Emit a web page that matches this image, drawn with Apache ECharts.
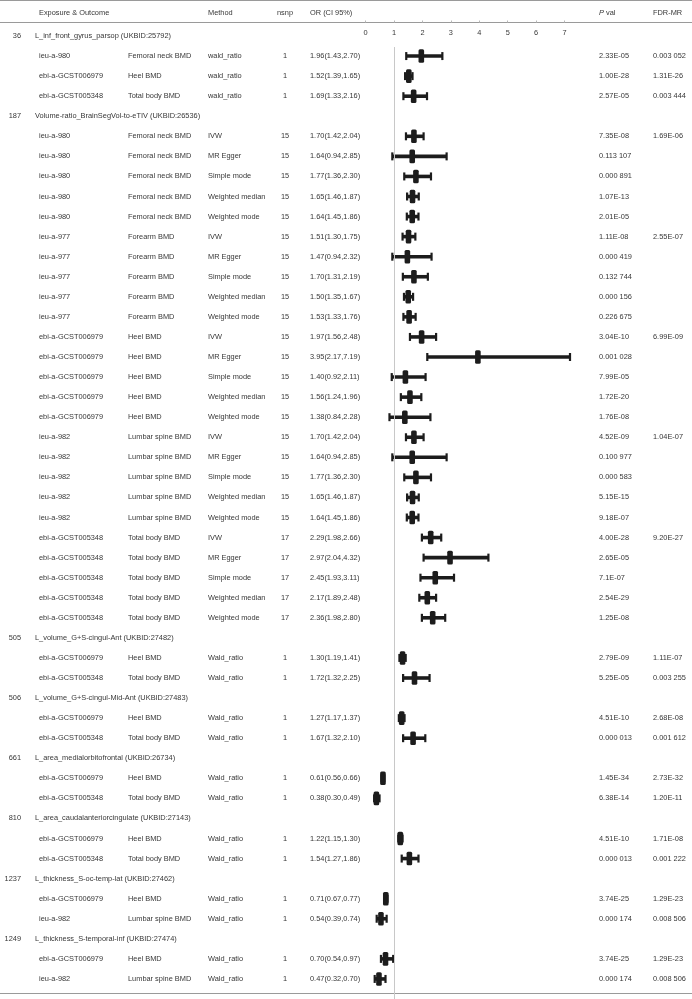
<!DOCTYPE html>
<html>
<head>
<meta charset="utf-8">
<script src="https://cdn.jsdelivr.net/npm/echarts/dist/echarts.min.js"></script>
<style>
html,body{margin:0;padding:0;background:#ffffff;}
#chart{width:692px;height:999px;}
</style>
</head>
<body>
<div id="chart"></div>
<script>
// ---------- data ----------
const groupIds = [36, 187, 505, 506, 661, 810, 1237, 1249];
const exposures = [
  "L_inf_front_gyrus_parsop (UKBID:25792)",
  "Volume-ratio_BrainSegVol-to-eTIV (UKBID:26536)",
  "L_volume_G+S-cingul-Ant (UKBID:27482)",
  "L_volume_G+S-cingul-Mid-Ant (UKBID:27483)",
  "L_area_medialorbitofrontal (UKBID:26734)",
  "L_area_caudalanteriorcingulate (UKBID:27143)",
  "L_thickness_S-oc-temp-lat (UKBID:27462)",
  "L_thickness_S-temporal-inf (UKBID:27474)"
];
const groupCounts = [3, 25, 2, 2, 2, 2, 2, 2];

const outcomeIds = [
  "ieu-a-980","ebi-a-GCST006979","ebi-a-GCST005348",
  "ieu-a-980","ieu-a-980","ieu-a-980","ieu-a-980","ieu-a-980",
  "ieu-a-977","ieu-a-977","ieu-a-977","ieu-a-977","ieu-a-977",
  "ebi-a-GCST006979","ebi-a-GCST006979","ebi-a-GCST006979","ebi-a-GCST006979","ebi-a-GCST006979",
  "ieu-a-982","ieu-a-982","ieu-a-982","ieu-a-982","ieu-a-982",
  "ebi-a-GCST005348","ebi-a-GCST005348","ebi-a-GCST005348","ebi-a-GCST005348","ebi-a-GCST005348",
  "ebi-a-GCST006979","ebi-a-GCST005348",
  "ebi-a-GCST006979","ebi-a-GCST005348",
  "ebi-a-GCST006979","ebi-a-GCST005348",
  "ebi-a-GCST006979","ebi-a-GCST005348",
  "ebi-a-GCST006979","ieu-a-982",
  "ebi-a-GCST006979","ieu-a-982"
];
const outcomes = [
  "Femoral neck BMD","Heel BMD","Total body BMD",
  "Femoral neck BMD","Femoral neck BMD","Femoral neck BMD","Femoral neck BMD","Femoral neck BMD",
  "Forearm BMD","Forearm BMD","Forearm BMD","Forearm BMD","Forearm BMD",
  "Heel BMD","Heel BMD","Heel BMD","Heel BMD","Heel BMD",
  "Lumbar spine BMD","Lumbar spine BMD","Lumbar spine BMD","Lumbar spine BMD","Lumbar spine BMD",
  "Total body BMD","Total body BMD","Total body BMD","Total body BMD","Total body BMD",
  "Heel BMD","Total body BMD",
  "Heel BMD","Total body BMD",
  "Heel BMD","Total body BMD",
  "Heel BMD","Total body BMD",
  "Heel BMD","Lumbar spine BMD",
  "Heel BMD","Lumbar spine BMD"
];
const fiveMethods = ["IVW","MR Egger","Simple mode","Weighted median","Weighted mode"];
const methods = [
  "wald_ratio","wald_ratio","wald_ratio",
  ...fiveMethods, ...fiveMethods, ...fiveMethods, ...fiveMethods, ...fiveMethods,
  "Wald_ratio","Wald_ratio","Wald_ratio","Wald_ratio","Wald_ratio","Wald_ratio",
  "Wald_ratio","Wald_ratio","Wald_ratio","Wald_ratio","Wald_ratio","Wald_ratio"
];
const nsnp = [1,1,1, 15,15,15,15,15, 15,15,15,15,15, 15,15,15,15,15, 15,15,15,15,15, 17,17,17,17,17, 1,1,1,1,1,1,1,1,1,1,1,1];
const orVals = [1.96,1.52,1.69, 1.70,1.64,1.77,1.65,1.64, 1.51,1.47,1.70,1.50,1.53, 1.97,3.95,1.40,1.56,1.38,
  1.70,1.64,1.77,1.65,1.64, 2.29,2.97,2.45,2.17,2.36, 1.30,1.72, 1.27,1.67, 0.61,0.38, 1.22,1.54, 0.71,0.54, 0.70,0.47];
const ciLow = [1.43,1.39,1.33, 1.42,0.94,1.36,1.46,1.45, 1.30,0.94,1.31,1.35,1.33, 1.56,2.17,0.92,1.24,0.84,
  1.42,0.94,1.36,1.46,1.45, 1.98,2.04,1.93,1.89,1.98, 1.19,1.32, 1.17,1.32, 0.56,0.30, 1.15,1.27, 0.67,0.39, 0.54,0.32];
const ciHigh = [2.70,1.65,2.16, 2.04,2.85,2.30,1.87,1.86, 1.75,2.32,2.19,1.67,1.76, 2.48,7.19,2.11,1.96,2.28,
  2.04,2.85,2.30,1.87,1.86, 2.66,4.32,3.11,2.48,2.80, 1.41,2.25, 1.37,2.10, 0.66,0.49, 1.30,1.86, 0.77,0.74, 0.97,0.70];
const pVals = ["2.33E-05","1.00E-28","2.57E-05",
  "7.35E-08","0.113 107","0.000 891","1.07E-13","2.01E-05",
  "1.11E-08","0.000 419","0.132 744","0.000 156","0.226 675",
  "3.04E-10","0.001 028","7.99E-05","1.72E-20","1.76E-08",
  "4.52E-09","0.100 977","0.000 583","5.15E-15","9.18E-07",
  "4.00E-28","2.65E-05","7.1E-07","2.54E-29","1.25E-08",
  "2.79E-09","5.25E-05","4.51E-10","0.000 013","1.45E-34","6.38E-14",
  "4.51E-10","0.000 013","3.74E-25","0.000 174","3.74E-25","0.000 174"];
const fdrVals = ["0.003 052","1.31E-26","0.003 444",
  "1.69E-06","","","","",
  "2.55E-07","","","","",
  "6.99E-09","","","","",
  "1.04E-07","","","","",
  "9.20E-27","","","","",
  "1.11E-07","0.003 255","2.68E-08","0.001 612","2.73E-32","1.20E-11",
  "1.71E-08","0.001 222","1.29E-23","0.008 506","1.29E-23","0.008 506"];
const xTickMin = 0, xTickMax = 7, xTickStep = 1;
const refValue = 1;

// ---------- build table rows ----------
const tableRows = [];   // {pos, kind, ...}
const forestData = [];  // [pos, or, lo, hi]
let pos = 0, r = 0;
groupIds.forEach((gid, g) => {
  tableRows.push({pos: pos, kind: 'group', id: String(gid), name: exposures[g]});
  pos++;
  for (let k = 0; k < groupCounts[g]; k++, r++, pos++) {
    tableRows.push({
      pos: pos, kind: 'row',
      oid: outcomeIds[r], outcome: outcomes[r], method: methods[r], nsnp: String(nsnp[r]),
      orText: orVals[r].toFixed(2) + '(' + ciLow[r].toFixed(2) + ',' + ciHigh[r].toFixed(2) + ')',
      p: pVals[r], fdr: fdrVals[r]
    });
    forestData.push([pos, orVals[r], ciLow[r], ciHigh[r]]);
  }
});

// ---------- style ----------
const FONT = '"Liberation Sans", Arial, Helvetica, sans-serif';
const FS = 7.4;
const TXT = '#363636';
const COL = { gid: 21, expo: 35, oid: 39, outcome: 128, method: 208, nsnp: 285, or: 310, p: 599, fdr: 653 };
const RULE = '#9a9a9a';

function txt(x, y, s, align) {
  return { type: 'text', x: x, y: y,
    style: { text: s, fill: TXT, fontSize: FS, fontFamily: FONT, align: align || 'left', verticalAlign: 'middle' } };
}

function renderTable(params, api) {
  const row = tableRows[params.dataIndex];
  const y = api.coord([0, row.pos])[1];
  const ch = [];
  if (row.kind === 'group') {
    ch.push(txt(COL.gid, y, row.id, 'right'));
    ch.push(txt(COL.expo, y, row.name));
  } else {
    ch.push(txt(COL.oid, y, row.oid));
    ch.push(txt(COL.outcome, y, row.outcome));
    ch.push(txt(COL.method, y, row.method));
    ch.push(txt(COL.nsnp, y, row.nsnp, 'center'));
    ch.push(txt(COL.or, y, row.orText));
    ch.push(txt(COL.p, y, row.p));
    if (row.fdr) ch.push(txt(COL.fdr, y, row.fdr));
  }
  return { type: 'group', children: ch };
}

function renderForest(params, api) {
  const yv = api.value(0);
  const pOr = api.coord([api.value(1), yv]);
  const pLo = api.coord([api.value(2), yv]);
  const pHi = api.coord([api.value(3), yv]);
  const c = '#1c1c1c';
  return { type: 'group', children: [
    { type: 'line', shape: { x1: pLo[0], y1: pLo[1], x2: pHi[0], y2: pHi[1] }, style: { stroke: c, lineWidth: 3.6 } },
    { type: 'line', shape: { x1: pLo[0], y1: pLo[1] - 4, x2: pLo[0], y2: pLo[1] + 4 }, style: { stroke: c, lineWidth: 2.2 } },
    { type: 'line', shape: { x1: pHi[0], y1: pHi[1] - 4, x2: pHi[0], y2: pHi[1] + 4 }, style: { stroke: c, lineWidth: 2.2 } },
    { type: 'rect', shape: { x: pOr[0] - 2.8, y: pOr[1] - 6.8, width: 5.6, height: 13.6, r: 1.5 }, style: { fill: c } }
  ]};
}

const chart = echarts.init(document.getElementById('chart'), null, { renderer: 'canvas' });
const option = {
  animation: false,
  backgroundColor: '#ffffff',
  grid: { left: 365.6, right: 127.4, top: 22.5, bottom: 0, containLabel: false },
  xAxis: {
    type: 'value', position: 'top', min: xTickMin, max: xTickMax, interval: xTickStep,
    axisLine: { show: false, onZero: false },
    axisTick: { show: true, inside: false, length: 2, lineStyle: { color: '#b8b8b8', width: 1 } },
    axisLabel: { inside: true, margin: 7, fontSize: FS, fontFamily: FONT, color: TXT },
    splitLine: { show: false }
  },
  yAxis: {
    type: 'value', inverse: true, min: -0.673, max: 48.0, show: false,
    splitLine: { show: false }
  },
  graphic: [
    { type: 'line', shape: { x1: 0, y1: 0.5, x2: 692, y2: 0.5 }, style: { stroke: RULE, lineWidth: 1 } },
    { type: 'line', shape: { x1: 0, y1: 22.5, x2: 692, y2: 22.5 }, style: { stroke: RULE, lineWidth: 1 } },
    { type: 'line', shape: { x1: 0, y1: 993.5, x2: 692, y2: 993.5 }, style: { stroke: RULE, lineWidth: 1 } },
    { type: 'text', x: 39, y: 13, style: { text: 'Exposure & Outcome', fill: TXT, fontSize: FS, fontFamily: FONT, verticalAlign: 'middle' } },
    { type: 'text', x: 208, y: 13, style: { text: 'Method', fill: TXT, fontSize: FS, fontFamily: FONT, verticalAlign: 'middle' } },
    { type: 'text', x: 285, y: 13, style: { text: 'nsnp', fill: TXT, fontSize: FS, fontFamily: FONT, align: 'center', verticalAlign: 'middle' } },
    { type: 'text', x: 310, y: 13, style: { text: 'OR (CI 95%)', fill: TXT, fontSize: FS, fontFamily: FONT, verticalAlign: 'middle' } },
    { type: 'text', x: 599, y: 13, style: { text: '{i|P} val', fill: TXT, fontSize: FS, fontFamily: FONT, verticalAlign: 'middle',
        rich: { i: { fontStyle: 'italic', fontSize: FS, fontFamily: FONT, fill: TXT } } } },
    { type: 'text', x: 653, y: 13, style: { text: 'FDR-MR', fill: TXT, fontSize: FS, fontFamily: FONT, verticalAlign: 'middle' } }
  ],
  series: [
    {
      type: 'custom', name: 'table', coordinateSystem: 'cartesian2d', clip: false,
      data: tableRows.map(function (t) { return [0, t.pos]; }),
      encode: { x: 0, y: 1 },
      renderItem: renderTable, silent: true
    },
    {
      type: 'custom', name: 'forest', coordinateSystem: 'cartesian2d', clip: false,
      data: forestData,
      encode: { x: [1, 2, 3], y: 0 },
      renderItem: renderForest,
      markLine: {
        silent: true, symbol: 'none', label: { show: false },
        lineStyle: { color: '#c8c8c8', width: 1, type: 'solid' },
        data: [[{ coord: [refValue, 0.55] }, { coord: [refValue, 48.0] }]]
      },
      z: 3
    }
  ]
};
chart.setOption(option);
</script>
</body>
</html>
